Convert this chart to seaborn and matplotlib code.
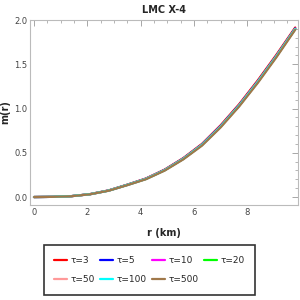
import matplotlib
matplotlib.use('Agg')
import matplotlib.pyplot as plt
import seaborn as sns
import pandas as pd
from matplotlib.ticker import MultipleLocator

# radius grid (km) and m(r) curves for each tau
r_km = [0, 0.7, 1.4, 2.1, 2.8, 3.5, 4.2, 4.9, 5.6, 6.3, 7.0, 7.7, 8.4, 9.1, 9.8]
m_tau3 = [0, 0.002, 0.010, 0.033, 0.075, 0.140, 0.210, 0.310, 0.440, 0.600, 0.810, 1.050, 1.320, 1.610, 1.915]
m_tau5 = [0, 0.002, 0.010, 0.032, 0.074, 0.138, 0.207, 0.306, 0.435, 0.593, 0.801, 1.040, 1.308, 1.598, 1.905]
m_tau10 = [0, 0.002, 0.010, 0.032, 0.073, 0.137, 0.206, 0.304, 0.433, 0.591, 0.798, 1.037, 1.305, 1.595, 1.902]
m_tau20 = [0, 0.002, 0.010, 0.032, 0.073, 0.137, 0.205, 0.303, 0.432, 0.589, 0.796, 1.035, 1.303, 1.593, 1.900]
m_tau50 = [0, 0.002, 0.010, 0.032, 0.073, 0.136, 0.205, 0.303, 0.431, 0.588, 0.795, 1.034, 1.302, 1.592, 1.899]
m_tau100 = [0, 0.002, 0.010, 0.032, 0.072, 0.136, 0.204, 0.302, 0.430, 0.587, 0.794, 1.033, 1.301, 1.591, 1.898]
m_tau500 = [0, 0.002, 0.009, 0.031, 0.071, 0.134, 0.201, 0.298, 0.425, 0.580, 0.786, 1.024, 1.291, 1.581, 1.890]

labels = ["τ=3", "τ=5", "τ=10", "τ=20", "τ=50", "τ=100", "τ=500"]
colors = ["#ff0000", "#0000ff", "#ff00ff", "#00ff00", "#ff9999", "#00ffff", "#a0784a"]
series = [m_tau3, m_tau5, m_tau10, m_tau20, m_tau50, m_tau100, m_tau500]

sns.set_style("white")
plt.rcParams['font.family'] = ['DejaVu Sans']

fig = plt.figure(figsize=(3, 3), dpi=100)
ax = fig.add_axes([0.1, 1 - 205 / 300, 0.893, 185 / 300])

for lab, col, vals in zip(labels, colors, series):
    df = pd.DataFrame({"r": r_km, "m": vals})
    sns.lineplot(data=df, x="r", y="m", ax=ax, color=col, linewidth=1.6, label=lab, legend=False)

ax.set_xlim(-0.15, 9.9)
ax.set_ylim(-0.09, 2.0)
ax.xaxis.set_major_locator(MultipleLocator(2))
ax.xaxis.set_minor_locator(MultipleLocator(0.5))
ax.yaxis.set_major_locator(MultipleLocator(0.5))
ax.yaxis.set_minor_locator(MultipleLocator(0.1))
ax.set_yticklabels([f"{v:.1f}" for v in ax.get_yticks()])
ax.tick_params(which="both", direction="in", top=True, right=True, color="#999999",
               labelsize=6, labelcolor="#444444", pad=2)
ax.tick_params(which="major", length=4, width=0.6)
ax.tick_params(which="minor", length=2, width=0.5)
ax.tick_params(axis="both", labeltop=False, labelright=False)
for s in ax.spines.values():
    s.set_color("#bbbbbb")
    s.set_linewidth(0.8)

ax.set_title("LMC X-4", fontsize=7, fontweight="bold", pad=5)
ax.set_xlabel("r (km)", fontsize=7, fontweight="bold", labelpad=8)
ax.set_ylabel("m(r)", fontsize=7, fontweight="bold")
ax.yaxis.set_label_coords(-0.072, 0.5)

# matplotlib fills legends column by column; reorder to read row by row
handles, labs = ax.get_legend_handles_labels()
order = [0, 4, 1, 5, 2, 6, 3]
leg = fig.legend([handles[i] for i in order], [labs[i] for i in order], loc="center",
                 bbox_to_anchor=(149.5 / 300, 1 - 270 / 300),
                 ncol=4, fontsize=6.5, frameon=True, fancybox=False, handlelength=1.4,
                 columnspacing=0.6, handletextpad=0.4, borderpad=1.2, labelspacing=1.1)
leg.get_frame().set_edgecolor("black")
leg.get_frame().set_linewidth(1.2)

fig.savefig("out.png", dpi=100)
